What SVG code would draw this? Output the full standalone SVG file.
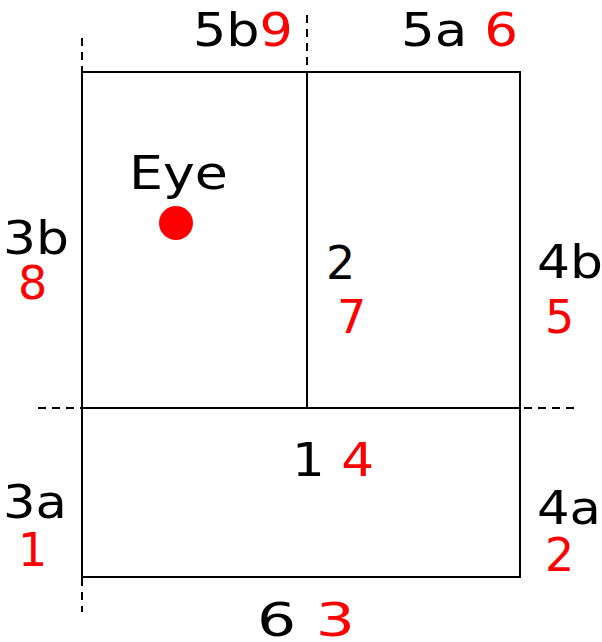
<svg xmlns="http://www.w3.org/2000/svg" width="602" height="642" viewBox="0 0 602 642">
<style>
.ln{stroke:#000;stroke-width:2;fill:none}
.ds{stroke:#000;stroke-width:2;fill:none;stroke-dasharray:8 6}
text{font-family:"DejaVu Sans","Verdana",sans-serif;font-size:46px;fill:#000}
.r{fill:#ff0000}
</style>
<rect width="602" height="642" fill="#fff"/>
<g id="connectors">
<rect class="ln" x="82" y="72" width="438" height="505"/>
<line class="ln" x1="82" y1="408" x2="520" y2="408"/>
<line class="ln" x1="307" y1="72" x2="307" y2="408"/>
<line class="ds" x1="38" y1="408" x2="82" y2="408"/>
<line class="ds" x1="524" y1="408" x2="580" y2="408"/>
<line class="ds" x1="307" y1="15" x2="307" y2="72"/>
<line class="ds" x1="82" y1="38" x2="82" y2="72"/>
<line class="ds" x1="82" y1="578" x2="82" y2="612"/>
</g>
<g id="eye">
<text x="129" y="189" textLength="99" lengthAdjust="spacingAndGlyphs">Eye</text>
<circle cx="176" cy="223" r="17" fill="#ff0000"/>
</g>
<g id="top-left"><text x="193" y="46" textLength="100" lengthAdjust="spacingAndGlyphs">5b<tspan class="r">9</tspan></text></g>
<g id="top-right"><text x="401" y="46" textLength="117" lengthAdjust="spacingAndGlyphs">5a <tspan class="r">6</tspan></text></g>
<g id="left-b"><text x="3" y="254" textLength="66" lengthAdjust="spacingAndGlyphs">3b</text><text class="r" x="18" y="299">8</text></g>
<g id="mid-2"><text x="326" y="279">2</text><text class="r" x="337" y="333">7</text></g>
<g id="right-b"><text x="537" y="278" textLength="66" lengthAdjust="spacingAndGlyphs">4b</text><text class="r" x="545" y="333">5</text></g>
<g id="mid-1"><text x="292" y="476" textLength="82" lengthAdjust="spacingAndGlyphs">1 <tspan class="r">4</tspan></text></g>
<g id="left-a"><text x="3" y="518" textLength="64" lengthAdjust="spacingAndGlyphs">3a</text><text class="r" x="18" y="566">1</text></g>
<g id="right-a"><text x="537" y="524" textLength="64" lengthAdjust="spacingAndGlyphs">4a</text><text class="r" x="545" y="571">2</text></g>
<g id="bottom"><text x="257" y="636" textLength="98" lengthAdjust="spacingAndGlyphs">6 <tspan class="r">3</tspan></text></g>
</svg>
